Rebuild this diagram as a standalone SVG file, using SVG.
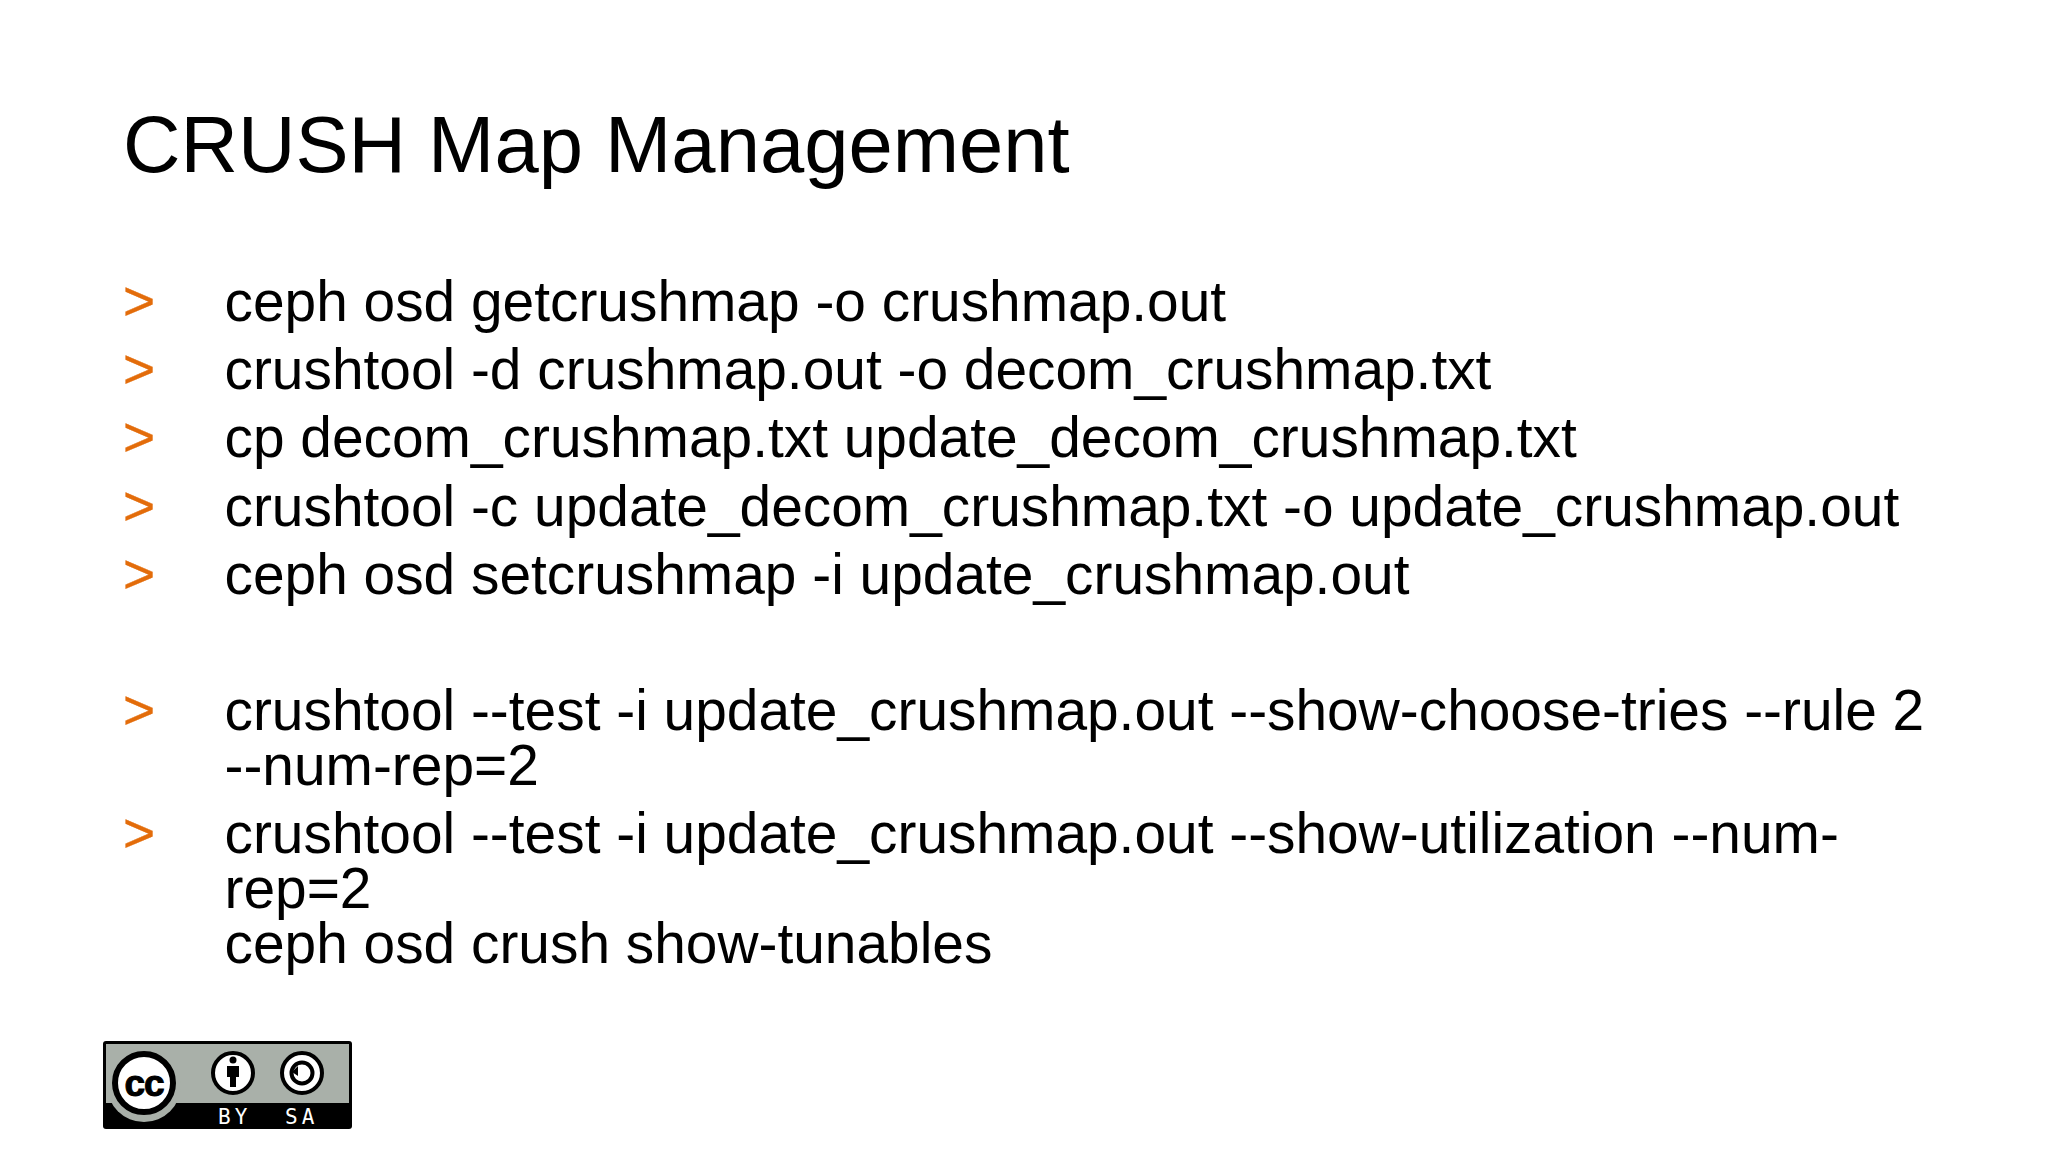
<svg xmlns="http://www.w3.org/2000/svg" width="2048" height="1152" viewBox="0 0 2048 1152">
<style>
text{font-family:"Liberation Sans",Arial,sans-serif;fill:#000}
.t{font-size:79.6px}
.b{font-size:56.85px}
.m{font-size:55px;fill:#e36c0a;stroke:#e36c0a;stroke-width:.4px}
.k{font-family:"DejaVu Sans Mono","Liberation Mono",monospace;font-size:21px;fill:#fff;letter-spacing:4px}
.r{fill:#fff;stroke:#000}
</style>
<rect width="2048" height="1152" fill="#fff"/>
<text class="t" x="123" y="172">CRUSH Map Management</text>
<g id="list">
<text class="m" x="123" y="320">&gt;</text><text class="b" x="224.5" y="321">ceph osd getcrushmap -o crushmap.out</text>
<text class="m" x="123" y="388">&gt;</text><text class="b" x="224.5" y="389">crushtool -d crushmap.out -o decom_crushmap.txt</text>
<text class="m" x="123" y="456">&gt;</text><text class="b" x="224.5" y="457">cp decom_crushmap.txt update_decom_crushmap.txt</text>
<text class="m" x="123" y="525">&gt;</text><text class="b" x="224.5" y="526">crushtool -c update_decom_crushmap.txt -o update_crushmap.out</text>
<text class="m" x="123" y="593">&gt;</text><text class="b" x="224.5" y="594">ceph osd setcrushmap -i update_crushmap.out</text>
<text class="m" x="123" y="729">&gt;</text><text class="b" x="224.5" y="730">crushtool --test -i update_crushmap.out --show-choose-tries --rule 2</text>
<text class="b" x="224.5" y="785">--num-rep=2</text>
<text class="m" x="123" y="852">&gt;</text><text class="b" x="224.5" y="853">crushtool --test -i update_crushmap.out --show-utilization --num-</text>
<text class="b" x="224.5" y="908">rep=2</text>
<text class="b" x="224.5" y="963">ceph osd crush show-tunables</text>
</g>
<g id="cc-badge">
<rect x="103" y="1041" width="249" height="88" rx="3" fill="#000"/>
<rect x="106" y="1044" width="243" height="59" fill="#a9b0a9"/>
<circle cx="144" cy="1085" r="37" fill="#a9b0a9"/>
<circle cx="144" cy="1083" r="29" class="r" stroke-width="6"/>
<text x="144" y="1096" text-anchor="middle" font-size="37" font-weight="700" stroke="#000" stroke-width="1" letter-spacing="-1" style="font-family:'Liberation Sans',sans-serif">cc</text>
<circle cx="233" cy="1073" r="20" class="r" stroke-width="4"/>
<circle cx="233" cy="1060" r="3.5"/>
<path d="M227 1066h12v11h-3v10h-6v-10h-3z"/>
<circle cx="302" cy="1073" r="20" class="r" stroke-width="4"/>
<circle cx="302" cy="1073" r="10.5" fill="none" stroke="#000" stroke-width="4"/>
<path d="M292 1072l6-6v10z" fill="#000"/>
<text class="k" x="218" y="1124">BY</text>
<text class="k" x="285" y="1124">SA</text>
</g>
</svg>
